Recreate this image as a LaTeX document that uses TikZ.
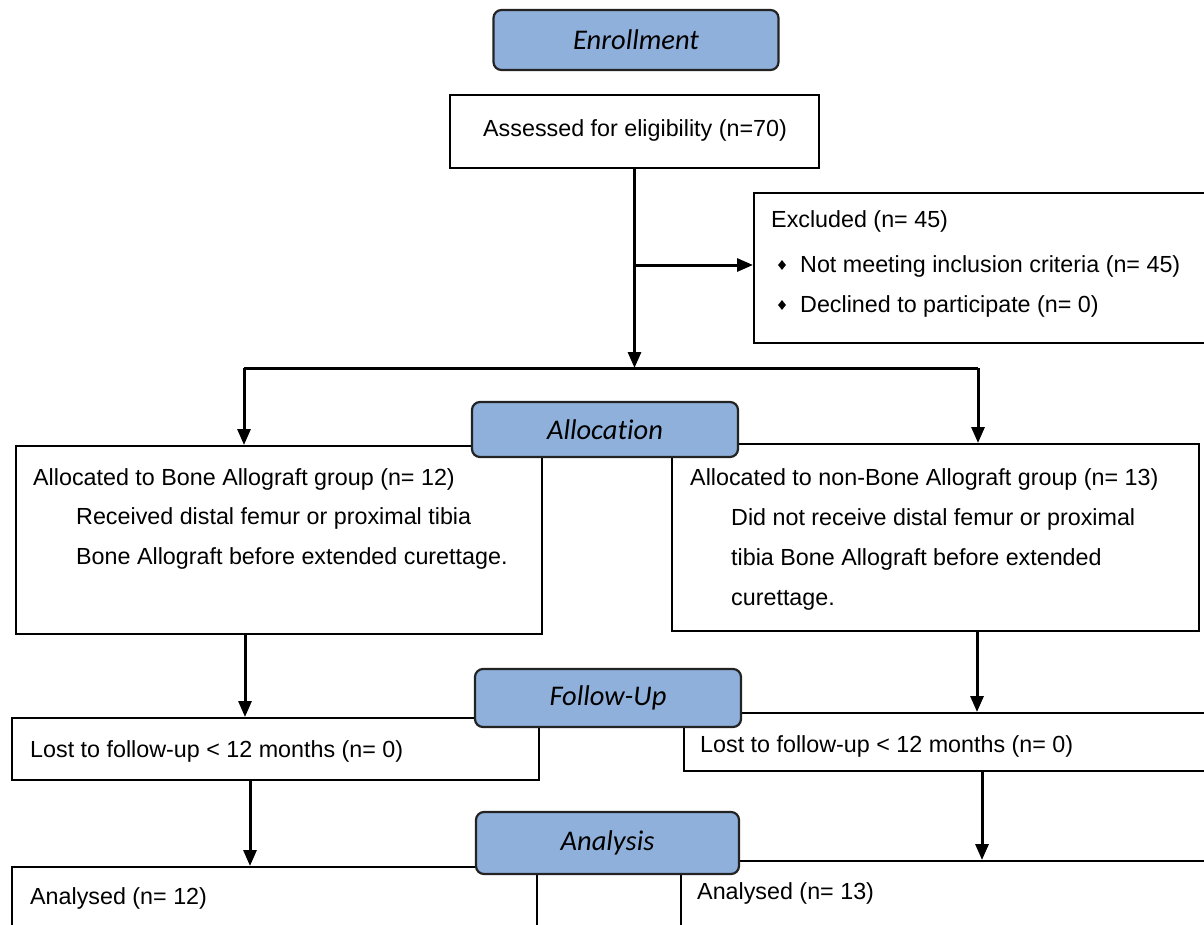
\documentclass[tikz,border=0pt]{standalone}
\usepackage{fontspec}
\setmainfont{Liberation Sans}
\newfontfamily\hdrfont[Ligatures=NoCommon]{Carlito}
\usetikzlibrary{arrows.meta,shapes.geometric}
\definecolor{hdrblue}{RGB}{142,176,219}
\definecolor{hdrline}{RGB}{35,35,35}
\begin{document}
\begin{tikzpicture}[x=1pt,y=-1pt,
  box/.style={draw=black, line width=2pt, fill=white, rectangle, inner sep=0pt, anchor=north west},
  hdr/.style={draw=hdrline, line width=2.2pt, fill=hdrblue, rounded corners=8pt, inner sep=0pt, font=\hdrfont\itshape\fontsize{28.5}{32}\selectfont},
  txt/.style={inner sep=0pt, anchor=base west, font=\fontsize{23.3}{39.7}\selectfont},
  bul/.style={diamond, fill=black, inner sep=0pt, minimum width=8pt, minimum height=10pt},
  conn/.style={draw=black, line width=3pt},
  arr/.style={conn, -{Triangle[length=16pt,width=13pt]}},
]
\useasboundingbox (0,0) rectangle (1204,924);
\clip (0,0) rectangle (1204,924);

% boxes
\node[box, minimum width=369pt, minimum height=73pt] (assess) at (449,94) {};
\node[box, minimum width=460pt, minimum height=150pt] (excl) at (753,192) {};
\node[box, minimum width=526pt, minimum height=188pt] (alloc1) at (15,445) {};
\node[box, minimum width=527pt, minimum height=187pt] (alloc2) at (671,443) {};
\node[box, minimum width=527pt, minimum height=62pt] (follow1) at (11,717) {};
\node[box, minimum width=530pt, minimum height=58pt] (follow2) at (683,712) {};
\node[box, minimum width=525pt, minimum height=80pt] (anal1) at (11,866) {};
\node[box, minimum width=540pt, minimum height=90pt] (anal2) at (680,860) {};

% headers
\node[hdr, minimum width=285pt, minimum height=60pt] (enroll) at (636,40) {Enrollment};
\node[hdr, minimum width=266pt, minimum height=55pt] (allocH) at (605,429.5) {Allocation};
\node[hdr, minimum width=266pt, minimum height=58pt] (followH) at (608,698) {Follow-Up};
\node[hdr, minimum width=263pt, minimum height=62pt] (analH) at (607.5,843) {Analysis};

% texts
\node[txt] (tassess) at (483,136) {Assessed for eligibility (n=70)};
\node[txt] (texcl) at (771,227) {Excluded (n= 45)};
\node[bul] (b1) at (782,265) {};
\node[bul] (b2) at (782,305) {};
\node[txt] (texcl1) at (800,272) {Not meeting inclusion criteria (n= 45)};
\node[txt] (texcl2) at (800,312) {Declined to participate (n= 0)};

\node[txt] (ta1) at (33,485) {Allocated to Bone Allograft group (n= 12)};
\node[txt] (ta2) at (76,524) {Received distal femur or proximal tibia};
\node[txt] (ta3) at (76,564) {Bone Allograft before extended curettage.};

\node[txt] (tb1) at (690,485) {Allocated to non-Bone Allograft group (n= 13)};
\node[txt] (tb2) at (731,525) {Did not receive distal femur or proximal};
\node[txt] (tb3) at (731,565) {tibia Bone Allograft before extended};
\node[txt] (tb4) at (731,605) {curettage.};

\node[txt] (tf1) at (30,757) {Lost to follow-up < 12 months (n= 0)};
\node[txt] (tf2) at (700,752) {Lost to follow-up < 12 months (n= 0)};
\node[txt] (tn1) at (30,904) {Analysed (n= 12)};
\node[txt] (tn2) at (697,899) {Analysed (n= 13)};

% connectors
\coordinate (split) at (assess.south |- 0,368);
\coordinate (exbranch) at (assess.south |- 0,265);
\coordinate (barL) at (244,368);
\coordinate (barR) at (978,368);
\coordinate (a1out) at (245,633);
\coordinate (a2out) at (977,630);
\coordinate (f1out) at (250,779);
\coordinate (f2out) at (982,770);

\draw[arr] (assess.south) -- (split);
\draw[arr] (exbranch) -- (excl.west |- exbranch);
\draw[conn] (barL) -- (barR);
\draw[arr] (barL) -- (alloc1.north -| barL);
\draw[arr] (barR) -- (alloc2.north -| barR);
\draw[arr] (a1out) -- (follow1.north -| a1out);
\draw[arr] (a2out) -- (follow2.north -| a2out);
\draw[arr] (f1out) -- (anal1.north -| f1out);
\draw[arr] (f2out) -- (anal2.north -| f2out);
\end{tikzpicture}
\end{document}
